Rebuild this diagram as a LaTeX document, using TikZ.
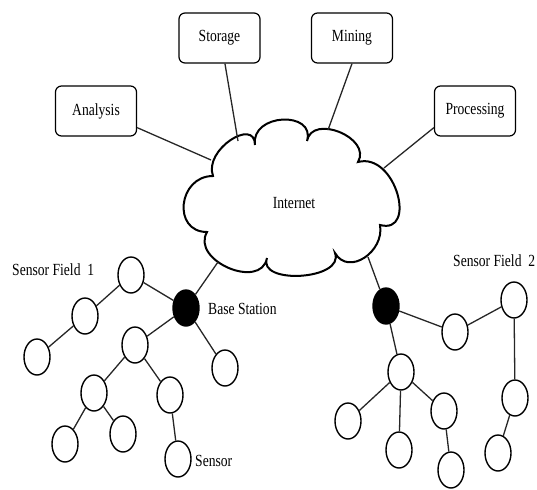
\documentclass[tikz,border=0pt]{standalone}
\usepackage{fontspec}
\setmainfont{Liberation Serif}[FakeStretch=0.8]
\usetikzlibrary{shapes.geometric}

\tikzset{
  svc/.style={draw, rounded corners=6pt, line width=1.2pt, minimum width=81pt,
    minimum height=50pt, inner sep=0pt, font=\fontsize{17}{19}\selectfont},
  sensor/.style={draw, ellipse, line width=1.4pt, minimum width=26pt,
    minimum height=36pt, inner sep=0pt, fill=white},
  basest/.style={sensor, fill=black},
  link/.style={line width=1.3pt, draw=black!85},
  lbl/.style={font=\fontsize{17}{19}\selectfont, inner sep=0pt, anchor=west},
}

\begin{document}
\begin{tikzpicture}[x=1pt, y=1pt]
\useasboundingbox (0,0) rectangle (537,-489);

% service boxes
\node[svc] (storage)    at (219.5,-38) {Storage};
\node[svc] (mining)     at (352,-38)   {Mining};
\node[svc] (analysis)   at (96,-111)   {Analysis};
\node[svc] (processing) at (475,-111)  {Processing};

% internet cloud outline
\draw[line width=2pt, fill=white]
  (213,-176)
  .. controls (203.4,-149.7) and (255,-117) .. (255,-145)
  .. controls (250.4,-113) and (316,-110.5) .. (307,-141)
  .. controls (312,-113.4) and (372,-137.8) .. (358,-162)
  .. controls (395.7,-152) and (417.7,-235) .. (380,-225)
  .. controls (384.7,-251.6) and (348.5,-276.4) .. (335,-253)
  .. controls (345,-280) and (257,-285) .. (267,-258)
  .. controls (261,-290.5) and (190.5,-260.6) .. (207,-232)
  .. controls (172,-232) and (178,-176) .. cycle;
\node[font=\fontsize{17}{19}\selectfont, inner sep=0pt] (internet) at (294,-203) {Internet};

% attachment points on the cloud
\coordinate (cAna)  at (211,-160);
\coordinate (cSto)  at (238,-141);
\coordinate (cMin)  at (328,-130);
\coordinate (cPro)  at (384,-168);
\coordinate (cBs1)  at (218,-262);
\coordinate (cBs2)  at (368,-257);

\draw[link] (analysis.-22) -- (cAna);
\draw[link] (storage.-78) -- (cSto);
\draw[link] (mining.south) -- (cMin);
\draw[link] (processing.202) -- (cPro);

% sensor field 1
\node[basest] (bs1) at (186,-308) {};
\node[sensor] (a1) at (131,-275) {};
\node[sensor] (b1) at (85,-316) {};
\node[sensor] (c1) at (37,-357) {};
\node[sensor] (d1) at (135,-345) {};
\node[sensor] (e1) at (225,-368) {};
\node[sensor] (f1) at (94,-393) {};
\node[sensor] (g1) at (170,-395) {};
\node[sensor] (h1) at (65,-444) {};
\node[sensor] (i1) at (123,-434) {};
\node[sensor] (j1) at (178,-459) {};

% sensor field 2
\node[basest] (bs2) at (386,-306) {};
\node[sensor] (k2) at (455,-332) {};
\node[sensor] (l2) at (514,-300) {};
\node[sensor] (m2) at (515,-398) {};
\node[sensor] (n2) at (498,-453) {};
\node[sensor] (o2) at (401,-372) {};
\node[sensor] (p2) at (348,-421) {};
\node[sensor] (q2) at (399,-450) {};
\node[sensor] (r2) at (444,-411) {};
\node[sensor] (s2) at (451,-470) {};

% links
\draw[link] (bs1) -- (cBs1);
\draw[link] (bs2) -- (cBs2);
\foreach \u/\v in {bs1/a1, a1/b1, b1/c1, bs1/d1, bs1/e1, d1/f1, d1/g1, f1/h1, f1/i1, g1/j1,
                   bs2/k2, k2/l2, l2/m2, m2/n2, bs2/o2, o2/p2, o2/q2, o2/r2, r2/s2}
  \draw[link] (\u) -- (\v);

% labels
\node[lbl] (lf1) at (12,-270)  {Sensor Field\ \ 1};
\node[lbl] (lf2) at (453,-261) {Sensor Field\ \ 2};
\node[lbl] (lbs) at (208,-309) {Base Station};
\node[lbl] (lsn) at (195,-461) {Sensor};
\end{tikzpicture}
\end{document}
